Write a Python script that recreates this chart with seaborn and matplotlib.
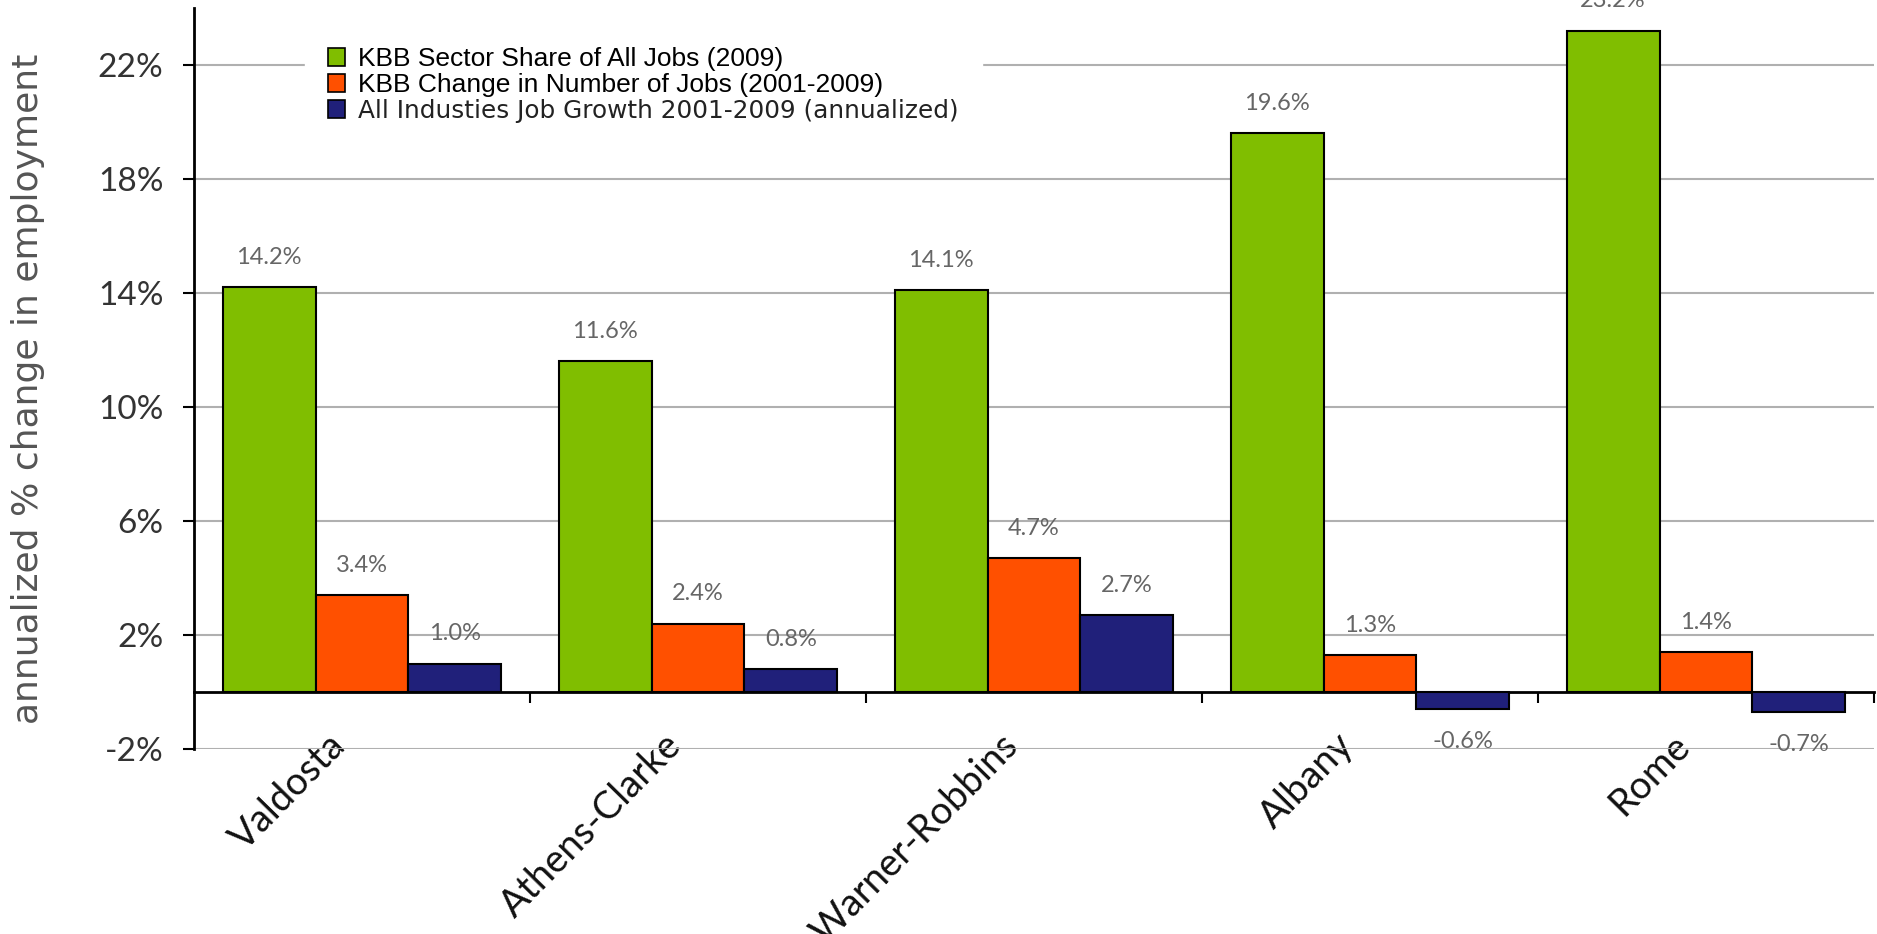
import numpy as np
import pandas as pd
import matplotlib
matplotlib.use("Agg")
import matplotlib.pyplot as plt
import matplotlib.transforms as mtransforms
import seaborn as sns

cities = ["Valdosta", "Athens-Clarke", "Warner-Robbins", "Albany", "Rome"]
series = ["KBB Sector Share of All Jobs (2009)",
          "KBB Change in Number of Jobs (2001-2009)",
          "All Industies Job Growth 2001-2009 (annualized)"]
share_2009 = [14.2, 11.6, 14.1, 19.6, 23.2]
kbb_change = [3.4, 2.4, 4.7, 1.3, 1.4]
all_growth = [1.0, 0.8, 2.7, -0.6, -0.7]
yticks = [-2, 2, 6, 10, 14, 18, 22]
colors = ["#80BE00", "#FF5000", "#20207A"]

df = pd.DataFrame({
    "city": cities * 3,
    "series": [series[0]] * 5 + [series[1]] * 5 + [series[2]] * 5,
    "value": share_2009 + kbb_change + all_growth,
})

sns.set_style("white")
plt.rcParams["font.family"] = ["Lato", "DejaVu Sans"]

W, H = 1877, 934
fig = plt.figure(figsize=(W / 100, H / 100), dpi=100)
ax = fig.add_axes([194 / W, 1 - 749 / H, (1874 - 194) / W, (749 - 8) / H])

sns.barplot(data=df, x="city", y="value", hue="series", order=cities,
            hue_order=series, palette=colors, width=0.83, edgecolor="black",
            linewidth=1.5, saturation=1, errorbar=None, ax=ax)

ax.set_ylim(-2, 24)
ax.set_xlim(-0.5, 4.5)
ax.set_yticks(yticks)
ax.set_yticklabels([f"{t}%" for t in yticks], fontsize=24, color="#333333")
ax.yaxis.grid(True, color="#B0B0B0", linewidth=1.5)
ax.set_axisbelow(True)
for s in ["top", "right", "bottom"]:
    ax.spines[s].set_visible(False)
ax.spines["left"].set_color("black")
ax.spines["left"].set_linewidth(2)
ax.tick_params(axis="y", direction="out", length=8, width=1.5, color="black",
               left=True, pad=14)
ax.tick_params(axis="x", length=0, pad=2)
ax.set_xticks(range(len(cities)))
ax.set_xticklabels(cities, rotation=45.5, ha="right", va="center",
                   rotation_mode="anchor", fontsize=27.5, color="#111111")
shift = mtransforms.ScaledTranslation(-22 / 100, 12 / 100, fig.dpi_scale_trans)
for lab in ax.get_xticklabels():
    lab.set_transform(lab.get_transform() + shift)
ax.set_xlabel("")
ax.set_ylabel("annualized % change in employment", fontsize=26,
              color="#555555", family=["DejaVu Sans"])
ax.yaxis.label.set_va("center")
ax.yaxis.set_label_coords(-0.099, 0.486)

# zero line with boundary ticks
sec = ax.secondary_xaxis(2 / 26)
sec.set_xticks([i + 0.5 for i in range(len(cities))])
sec.set_xticklabels([])
sec.tick_params(direction="out", length=8, width=1.5, color="black")
sec.spines["bottom"].set_linewidth(2)
sec.spines["bottom"].set_color("black")

lab_font = ["Liberation Sans Narrow", "Lato", "DejaVu Sans"]
for cont in ax.containers:
    vals = list(cont.datavalues)
    ax.bar_label(cont, labels=[f"{v:.1f}%" if v >= 0 else "" for v in vals],
                 padding=14, fontsize=17, color="#666666", family=lab_font)
    ax.bar_label(cont, labels=[f"{v:.1f}%" if v < 0 else "" for v in vals],
                 padding=16, fontsize=17, color="#666666", family=lab_font)

leg = ax.legend(loc="upper left", bbox_to_anchor=((305 - 194) / 1680, (749 - 24) / 741),
                frameon=True, fontsize=19, handlelength=0.64, handleheight=0.64,
                handletextpad=0.5, labelspacing=0.08, borderpad=0.88,
                borderaxespad=0, fancybox=False)
leg.get_frame().set_edgecolor("white")
leg.get_frame().set_facecolor("white")
leg.get_frame().set_alpha(1)
for h in leg.legend_handles:
    h.set_edgecolor("black")
    h.set_linewidth(1.2)
txts = leg.get_texts()
for t in txts[:2]:
    t.set_fontfamily(["Liberation Sans", "DejaVu Sans"])
    t.set_color("black")
txts[2].set_fontfamily(["DejaVu Sans"])
txts[2].set_fontsize(17.8)
txts[2].set_color("#222222")

fig.savefig("out.png", dpi=100)
